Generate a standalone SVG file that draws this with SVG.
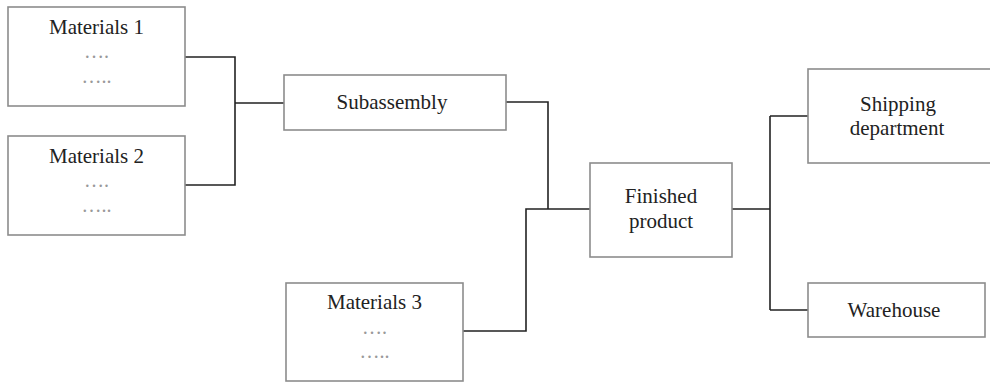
<svg xmlns="http://www.w3.org/2000/svg" width="990" height="383" viewBox="0 0 990 383">
<style>
.box{fill:#fff;stroke:#8c8c8c;stroke-width:1.6}
.t{font-size:21px;fill:#222;text-anchor:middle}
.d{font-size:20px;fill:#999;text-anchor:middle}
.c{fill:none;stroke:#222;stroke-width:1.6}
</style>
<rect width="990" height="383" fill="#fff"/>
<g id="connectors">
<path class="c" d="M185,57 H235 V185 H185 M235,103 H284"/>
<path class="c" d="M506,102 H548 V209"/>
<path class="c" d="M463,331 H526 V209 H590"/>
<path class="c" d="M732,209 H770 M770,116 V310 M770,116 H808 M770,310 H808"/>
</g>
<g font-family="Liberation Serif, Times New Roman, serif">
<g id="materials1">
<rect class="box" x="8" y="7" width="177" height="99"/>
<text class="t" x="96.5" y="34">Materials 1</text>
<text class="d" x="96.5" y="58">….</text>
<text class="d" x="96.5" y="83">…..</text>
</g>
<g id="materials2">
<rect class="box" x="8" y="136" width="177" height="99"/>
<text class="t" x="96.5" y="163">Materials 2</text>
<text class="d" x="96.5" y="187">….</text>
<text class="d" x="96.5" y="212">…..</text>
</g>
<g id="subassembly">
<rect class="box" x="284" y="75" width="222" height="55"/>
<text class="t" x="392" y="109">Subassembly</text>
</g>
<g id="materials3">
<rect class="box" x="286" y="283" width="177" height="98"/>
<text class="t" x="374.5" y="309">Materials 3</text>
<text class="d" x="374.5" y="334">….</text>
<text class="d" x="374.5" y="358">…..</text>
</g>
<g id="finished">
<rect class="box" x="590" y="163" width="142" height="94"/>
<text class="t" x="661" y="203">Finished</text>
<text class="t" x="661" y="228">product</text>
</g>
<g id="shipping">
<rect class="box" x="808" y="69" width="186" height="94"/>
<text class="t" x="898" y="111">Shipping</text>
<text class="t" x="897" y="135">department</text>
</g>
<g id="warehouse">
<rect class="box" x="808" y="283" width="177" height="54"/>
<text class="t" x="894" y="317">Warehouse</text>
</g>
</g>
</svg>
